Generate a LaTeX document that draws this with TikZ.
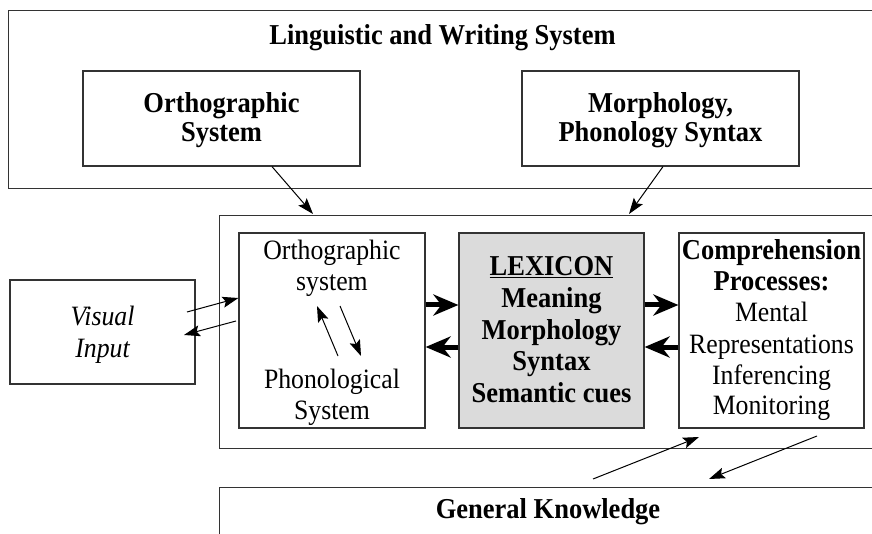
\documentclass[tikz,border=0pt]{standalone}
\usepackage{fontspec}
\setmainfont{Liberation Serif}[FakeStretch=0.92]
\usetikzlibrary{arrows.meta,calc}
\begin{document}
\begin{tikzpicture}[x=1pt,y=-1pt,
  box/.style={draw=black!80, line width=1.2pt, inner sep=0pt},
  bt/.style={font=\fontsize{28.8}{31}\selectfont\bfseries, anchor=base, inner sep=0pt},
  rt/.style={font=\fontsize{28}{31}\selectfont, anchor=base, inner sep=0pt},
  it/.style={font=\fontsize{28}{31}\selectfont\itshape, anchor=base, inner sep=0pt},
  thinarrow/.style={-{Stealth[length=16pt,width=11pt,inset=3pt]}, line width=1pt},
  thickarrow/.style={-{Stealth[length=25pt,width=21pt,inset=8pt]}, line width=5pt},
]
\useasboundingbox (0,0) rectangle (872,534);

% boxes
\node[box, anchor=north west, minimum width=880pt, minimum height=178pt] (lws) at (8,10) {};
\node[box, minimum width=277pt, minimum height=95pt] (orthsys) at (221.5,118.5) {};
\node[box, minimum width=277pt, minimum height=95pt] (morph) at (660.5,118.5) {};
\node[box, anchor=north west, minimum width=670pt, minimum height=233pt] (mid) at (219,215) {};
\node[box, minimum width=186pt, minimum height=195pt] (inner) at (332,330.5) {};
\node[box, fill=black!14, minimum width=185pt, minimum height=195pt] (lex) at (551.5,330.5) {};
\node[box, minimum width=185pt, minimum height=195pt] (comp) at (771.5,330.5) {};
\node[box, minimum width=185pt, minimum height=104pt] (vis) at (102.5,332) {};
\node[box, anchor=north west, minimum width=670pt, minimum height=100pt] (gk) at (219,487) {};

% texts
\node[bt] (t1) at (442.5,45) {Linguistic and Writing System};
\node[bt] (t2) at (221.5,112.5) {Orthographic};
\node[bt] (t3) at (221.5,142) {System};
\node[bt] (t4) at (660.5,112.5) {Morphology,};
\node[bt] (t5) at (660.5,142) {Phonology Syntax};
\node[it] (t6) at (102.5,326) {Visual};
\node[it] (t7) at (102.5,357) {Input};
\node[rt] (t8) at (332,260) {Orthographic};
\node[rt] (t9) at (332,291) {system};
\node[rt] (t10) at (332,388) {Phonological};
\node[rt] (t11) at (332,419) {System};
\node[bt] (t12) at (551.5,276) {\underline{LEXICON}};
\node[bt] (t13) at (551.5,308) {Meaning};
\node[bt] (t14) at (551.5,339) {Morphology};
\node[bt] (t15) at (551.5,370) {Syntax};
\node[bt] (t16) at (551.5,402) {Semantic cues};
\node[bt] (t17) at (771.5,260) {Comprehension};
\node[bt] (t18) at (771.5,291) {Processes:};
\node[rt] (t19) at (771.5,322) {Mental};
\node[rt] (t20) at (771.5,353) {Representations};
\node[rt] (t21) at (771.5,384) {Inferencing};
\node[rt] (t22) at (771.5,414) {Monitoring};
\node[bt] (t23) at (548,518) {General Knowledge};

% free ends
\coordinate (a1e) at (313,214);
\coordinate (a2e) at (629,214);
\coordinate (v1s) at (187,312);
\coordinate (v2s) at (236,321);
\coordinate (v2e) at (184,335);
\coordinate (u1s) at (338,356);
\coordinate (u1e) at (317,306);
\coordinate (d1s) at (340,306);
\coordinate (d1e) at (361,356);
\coordinate (b1s) at (593,479);
\coordinate (b1e) at (699,437);
\coordinate (b2s) at (817,436);
\coordinate (b2e) at (709,479);

% connectors
\draw[thinarrow] ([xshift=50.5pt]orthsys.south) -- (a1e);
\draw[thinarrow] ([xshift=2.5pt]morph.south) -- (a2e);
\draw[thinarrow] (v1s) -- ([yshift=32.5pt]inner.west);
\draw[thinarrow] (v2s) -- (v2e);
\draw[thinarrow] (u1s) -- (u1e);
\draw[thinarrow] (d1s) -- (d1e);
\draw[thinarrow] (b1s) -- (b1e);
\draw[thinarrow] (b2s) -- (b2e);
\draw[thickarrow] ([yshift=25.5pt]inner.east) -- ([yshift=25.5pt]lex.west);
\draw[thickarrow] ([yshift=-16.5pt]lex.west) -- ([yshift=-16.5pt]inner.east);
\draw[thickarrow] ([yshift=25.5pt]lex.east) -- ([yshift=25.5pt]comp.west);
\draw[thickarrow] ([yshift=-16.5pt]comp.west) -- ([yshift=-16.5pt]lex.east);
\end{tikzpicture}
\end{document}
